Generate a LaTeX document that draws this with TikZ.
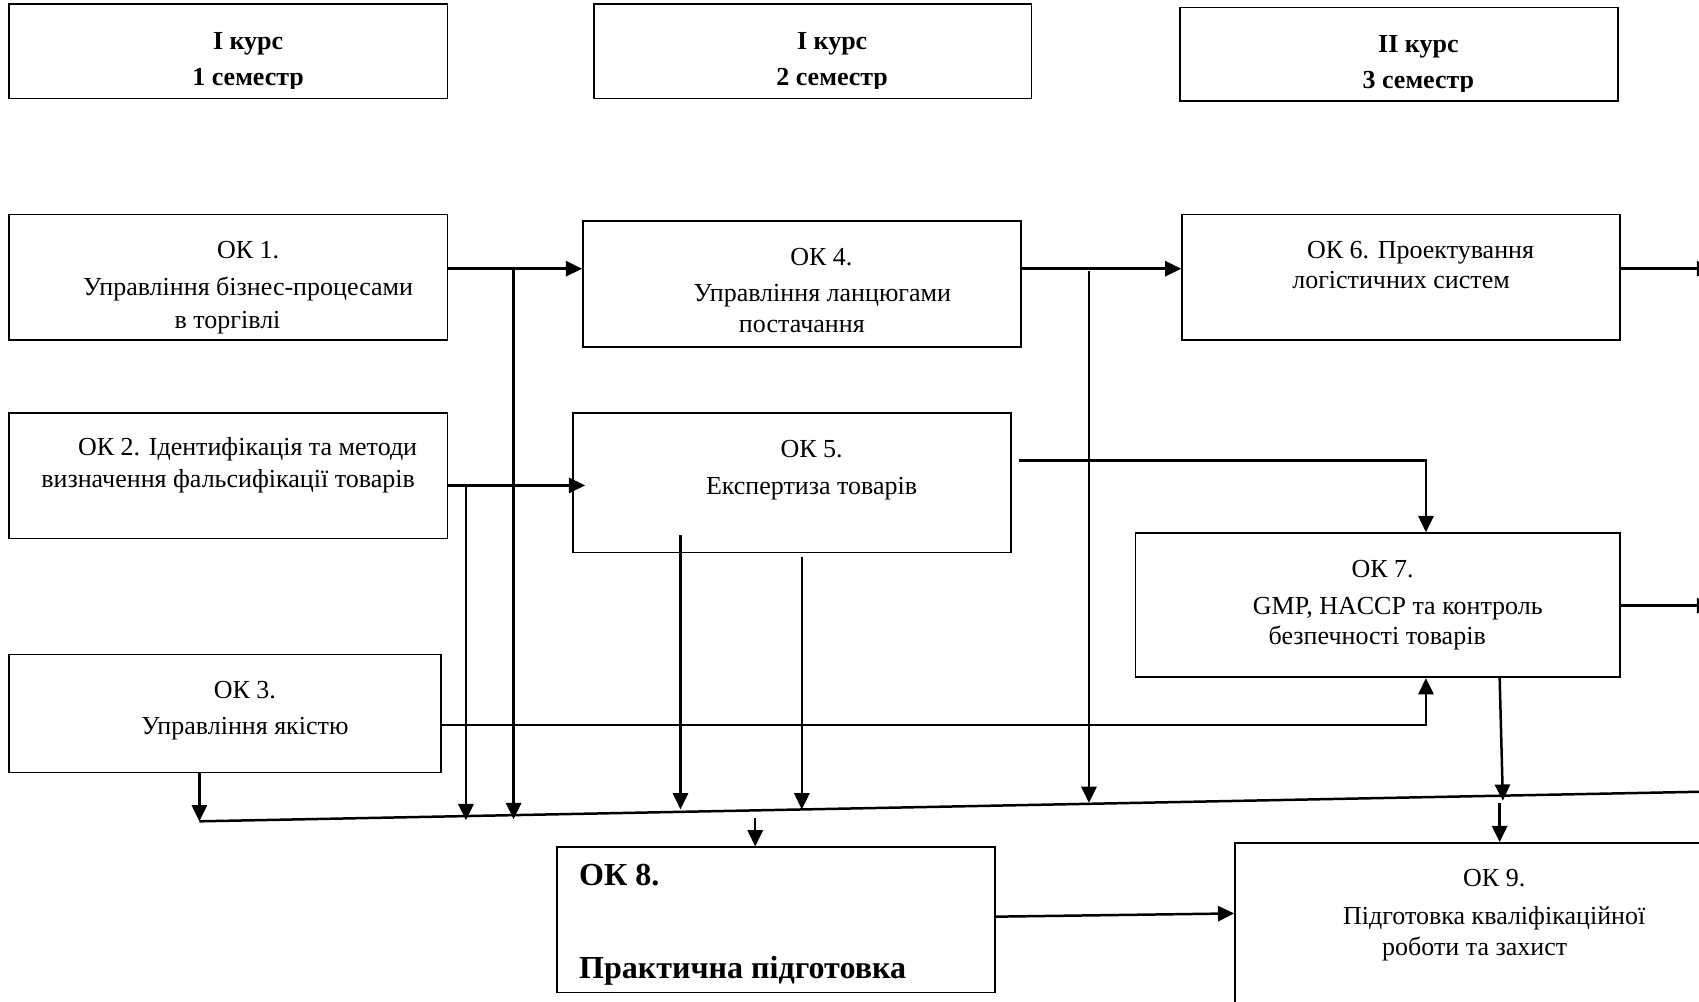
\documentclass[tikz,border=0pt]{standalone}
\usepackage{fontspec}
\setmainfont{Liberation Serif}
\usetikzlibrary{arrows.meta}
\begin{document}
\begin{tikzpicture}[x=0.5pt,y=-0.5pt,
  box/.style={draw, line width=0.8pt, inner sep=0pt},
  conn/.style={line width=1.15pt, -{Triangle[length=7.5pt,width=7pt]}},
  plainline/.style={line width=1.15pt},
  txt/.style={anchor=base, inner sep=0pt, font=\fontsize{12}{14}\selectfont},
  head/.style={anchor=base, inner sep=0pt, font=\fontsize{12}{14}\selectfont\bfseries},
  big/.style={anchor=base west, inner sep=0pt, font=\fontsize{14.8}{17}\selectfont\bfseries}]
\useasboundingbox (0,0) rectangle (1568,924);

% header boxes
\node[box, minimum width=202.5pt, minimum height=43.5pt] (H1) at (210.5,47.5) {};
\node[box, minimum width=202pt, minimum height=43.5pt] (H2) at (750,47.5) {};
\node[box, minimum width=202pt, minimum height=43pt] (H3) at (1291,50) {};
\begin{scope}
\clip (0,0) rectangle (1568,81.5);
\node[head] (H1a) at (229,46) {I курс};
\node[head] (H1b) at (229,79) {1 семестр};
\node[head] (H2a) at (768,46) {I курс};
\node[head] (H2b) at (768,79) {2 семестр};
\end{scope}
\begin{scope}
\clip (0,0) rectangle (1568,84);
\node[head] (H3a) at (1309,48) {II курс};
\node[head] (H3b) at (1309,81.5) {3 семестр};
\end{scope}

% boxes
\node[box, minimum width=202.5pt, minimum height=58pt] (OK1) at (210.5,256) {};
\node[box, minimum width=202.5pt, minimum height=58pt] (OK2) at (210.5,439) {};
\node[box, minimum width=199.5pt, minimum height=54.5pt] (OK3) at (207.5,658.5) {};
\node[box, minimum width=202pt, minimum height=58pt] (OK4) at (740,262) {};
\node[box, minimum width=202pt, minimum height=64.5pt] (OK5) at (731,445.5) {};
\node[box, minimum width=202pt, minimum height=58pt] (OK6) at (1293,256) {};
\node[box, minimum width=223.5pt, minimum height=66.5pt] (OK7) at (1271.5,558.5) {};
\node[box, minimum width=202pt, minimum height=67pt] (OK8) at (716,849) {};
\node[box, minimum width=220pt, minimum height=81pt] (OK9) at (1360,859) {};

% texts
\node[txt] (T1a) at (229,239) {ОК 1.};
\node[txt] (T1b) at (229,273) {Управління бізнес-процесами};
\node[txt] (T1c) at (210,303) {в торгівлі};
\node[txt] (T2a) at (228.5,420) {ОК 2. Ідентифікація та методи};
\node[txt] (T2b) at (210.5,450) {визначення фальсифікації товарів};
\node[txt] (T3a) at (226,645) {ОК 3.};
\node[txt] (T3b) at (226,678) {Управління якістю};
\node[txt] (T4a) at (758,245) {ОК 4.};
\node[txt] (T4b) at (759,278) {Управління ланцюгами};
\node[txt] (T4c) at (740,307) {постачання};
\node[txt] (T5a) at (749,422) {ОК 5.};
\node[txt] (T5b) at (749,456) {Експертиза товарів};
\node[txt] (T6a) at (1311,239) {ОК 6. Проектування};
\node[txt] (T6b) at (1293,266) {логістичних систем};
\node[txt] (T7a) at (1276,533) {ОК 7.};
\node[txt] (T7b) at (1290,567) {GMP, HACCP та контроль};
\node[txt] (T7c) at (1271,595) {безпечності товарів};
\node[big] (T8a) at (534,817) {ОК 8.};
\node[big] (T8b) at (534,903) {Практична підготовка};
\node[txt] (T9a) at (1379,818) {ОК 9.};
\node[txt] (T9b) at (1379,853) {Підготовка кваліфікаційної};
\node[txt] (T9c) at (1361,882) {роботи та захист};

% connectors
\coordinate (j1) at (474,248);
\coordinate (t1) at (474,756);
\draw[conn] (OK1.east |- j1) -- (OK4.west |- j1);
\draw[conn] (j1) -- (t1);

\coordinate (j2) at (430,448);
\coordinate (e2) at (540,448);
\coordinate (t2) at (430,757);
\draw[conn] (OK2.east |- j2) -- (e2);
\draw[conn] (j2) -- (t2);

\coordinate (j3) at (1005,250);
\coordinate (t3) at (1005,741);
\draw[conn] (OK4.east |- j1) -- (OK6.west |- j1);
\draw[conn] (j3) -- (t3);

\coordinate (k1) at (1316,425);
\draw[conn] ([xshift=3.5pt]OK5.east |- k1) -- (k1) -- (OK7.north -| k1);
\coordinate (k2) at (1316,669);
\draw[conn] (OK3.east |- k2) -- (k2) -- (OK7.south -| k2);

\coordinate (s1) at (628,494);
\coordinate (t4) at (628,747);
\draw[conn] (s1) -- (t4);
\coordinate (s2) at (740,514);
\coordinate (t5) at (740,747);
\draw[conn] (s2) -- (t5);

\coordinate (busL) at (184,758);
\coordinate (busR) at (1580,730.5);
\draw[plainline] (busL) -- (busR);
\draw[conn] (OK3.south -| busL) -- (busL);

\coordinate (s3) at (697,755);
\draw[conn] (s3) -- (OK8.north -| s3);

\coordinate (s4) at (1384,625);
\coordinate (t6) at (1387,739);
\draw[conn] (s4) -- (t6);
\coordinate (s5) at (1384,741);
\draw[conn] (s5) -- (OK9.north -| s5);

\coordinate (s6) at (918,846);
\coordinate (t7) at (1139,843);
\draw[conn] (s6) -- (t7);

\coordinate (r1) at (1581,248);
\draw[conn] (OK6.east |- r1) -- (r1);
\coordinate (r2) at (1581,559);
\draw[conn] (OK7.east |- r2) -- (r2);
\end{tikzpicture}
\end{document}
